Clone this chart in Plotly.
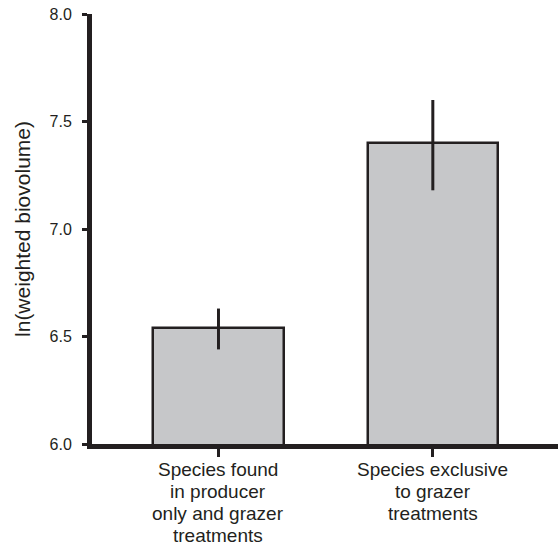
import plotly.graph_objects as go

categories = ["Species found<br>in producer<br>only and grazer<br>treatments",
              "Species exclusive<br>to grazer<br>treatments"]
means = [6.54, 7.40]
err_upper = [6.63, 7.60]
err_lower = [6.44, 7.18]
y_ticks = [6.0, 6.5, 7.0, 7.5, 8.0]
y_ticklabels = ["6.0", "6.5", "7.0", "7.5", "8.0"]

xpos = list(range(len(categories)))
plus = [u - m for u, m in zip(err_upper, means)]
minus = [m - l for m, l in zip(means, err_lower)]

dark = "#231f20"
font = "Arial, Liberation Sans, Helvetica, sans-serif"

fig = go.Figure()
fig.add_trace(go.Bar(
    x=xpos, y=means, width=0.607,
    marker=dict(color="#c6c7c9", line=dict(color=dark, width=2.5)),
    error_y=dict(type="data", symmetric=False, array=plus, arrayminus=minus,
                 color=dark, thickness=3, width=0),
    showlegend=False,
))

# category labels: one annotation per text line for tight line spacing
for xi, label in zip(xpos, categories):
    for li, line in enumerate(label.split("<br>")):
        fig.add_annotation(
            x=xi, xref="x", y=0, yref="paper",
            text=line, showarrow=False,
            xanchor="center", yanchor="middle",
            yshift=-25 - 22 * li,
            font=dict(size=19, color=dark, family=font),
        )

fig.update_layout(
    width=558, height=546,
    margin=dict(l=92, r=0, t=14, b=102),
    plot_bgcolor="white", paper_bgcolor="white",
    font=dict(family=font, color=dark),
    bargap=0,
)
fig.update_xaxes(
    range=[-0.59, 1.584], automargin=False,
    tickmode="array", tickvals=xpos, showticklabels=False,
    showline=True, linewidth=5, linecolor=dark,
    ticks="outside", ticklen=8, tickwidth=2.5, tickcolor=dark,
    showgrid=False, zeroline=False,
)
fig.update_yaxes(
    range=[6.0, 8.0], automargin=False,
    tickmode="array", tickvals=y_ticks, ticktext=y_ticklabels,
    showline=True, linewidth=5, linecolor=dark,
    ticks="outside", ticklen=5, tickwidth=2.5, tickcolor=dark,
    ticklabelstandoff=7, ticklabeloverflow="allow",
    tickfont=dict(size=16, color=dark, family=font),
    title=dict(text="ln(weighted biovolume)", font=dict(size=21, color=dark, family=font), standoff=15),
    showgrid=False, zeroline=False,
)

fig.write_html("out.html", config={"displayModeBar": False},
               post_script="document.body.style.margin='0';")
